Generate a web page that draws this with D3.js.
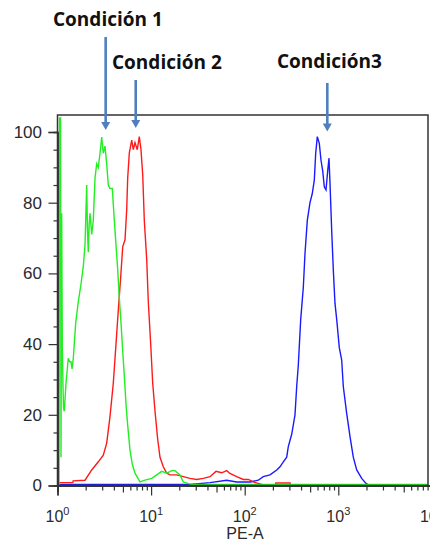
<!DOCTYPE html>
<html><head><meta charset="utf-8">
<script src="https://cdn.jsdelivr.net/npm/d3@7"></script>
<style>body{margin:0;background:#fff}svg{display:block}</style>
</head><body>
<svg id="c" width="430" height="543"></svg>
<script>
// ---------- data ----------
const yTicks = [0, 20, 40, 60, 80, 100];
const yMinorTicks = [5, 10, 15, 25, 30, 35, 45, 50, 55, 65, 70, 75, 85, 90, 95];
const xDecades = [0, 1, 2, 3, 4];
const xAxisLabel = "PE-A";
const annotations = ["Condición 1", "Condición 2", "Condición3"];
const arrowTargets = [3.27, 6.85, 763];   // PE-A value each arrow points at

// Condición 1 (green)  [PE-A, count]
const cond1 = [[1.04,0],[1.05,104],[1.077,104],[1.09,8],[1.109,77],[1.125,40],[1.145,28],[1.16,22],[1.182,21],
 [1.233,29],[1.304,36],[1.35,35],[1.394,35],[1.43,33],[1.475,36],[1.565,46],[1.668,52],[1.783,57],[1.886,62],
 [1.967,68],[2.016,78],[2.051,85],[2.09,72],[2.133,66],[2.18,74],[2.225,77],[2.32,71],[2.413,75],[2.516,87],
 [2.623,91],[2.729,90],[2.846,94],[2.967,98.6],[3.085,94],[3.217,96],[3.354,91],[3.489,85],[3.638,84],[3.85,84],
 [4.045,75],[4.217,68],[4.398,61],[4.575,53],[4.77,46],[4.974,38],[5.173,31],[5.393,23],[5.623,17],[5.951,10],
 [6.297,6],[6.73,3.5],[7.61,1],[8.606,1.5],[10.15,2],[11.48,3],[12.98,4],[14.68,3.5],[16.6,4.2],[18.0,4.2],
 [20.36,3],[22.08,1],[26.04,0.4],[30,0.3],[9500,0.3]];

// Condición 2 (red)
const cond2 = [[1.01,0.8],[1.46,0.8],[1.47,1.3],[1.967,1.5],[2.32,4.4],[2.729,6.7],[3.085,8.6],[3.354,12],
 [3.638,19.5],[3.947,29],[4.217,40],[4.463,49.6],[4.733,59],[4.974,67.5],[5.263,69.5],[5.487,78],[5.623,87],
 [5.849,94],[6.205,97.7],[6.454,95],[6.73,97],[7.12,95],[7.479,98.7],[7.799,95],[8.135,88],[8.461,75],[8.974,64],
 [9.335,52],[9.901,40],[10.4,29],[11.01,21],[11.77,13],[12.45,8],[13.5,5.3],[14.68,3.5],[15.92,3],[18.77,3],
 [22.08,2.5],[26.04,2],[30.71,1.7],[36.13,2],[42.59,2.5],[49.37,4],[56.8,3.6],[64.22,4.2],[69.66,3.4],
 [82.14,2.5],[96.6,1.7],[109.3,1.7],[123.6,1],[139.8,0.6],[164.8,0],[212,0],[215,0.7],[305,0.7],[308,0],[9500,0]];

// Condición 3 (blue)
const cond3 = [[1.01,0.3],[26.04,0.3],[42.59,0.8],[64.22,1.5],[82.14,1],[113.9,1],[139.8,1.5],[158.0,2.5],
 [186.3,3],[219.8,4.4],[238.3,5.3],[258.5,6.7],[281.0,8],[292.3,11],[317.8,14.5],[344.6,20],[359.4,28],[373.8,34],
 [396.6,47],[422.8,56],[440.8,65.7],[466.6,75],[498.4,80],[527.5,82.6],[554.0,86.4],[573.5,94],[596.6,98.7],
 [626.7,96.8],[653.5,92],[681.4,89],[708.7,84.5],[739.0,83.6],[770.6,89],[795.6,92.6],[815.4,85.5],[850.3,72],
 [884.5,61],[921.9,51.5],[961.4,47],[1025,39],[1087,35.5],[1131,28],[1229,20.4],[1334,13.8],[1446,8],[1573,4.4],
 [1778,2],[1977,0.6],[2170,0],[9500,0]];

// ---------- layout ----------
const svg = d3.select("#c");
const L = 57.5, R = 428, T = 115, B = 485.5;
const x = d3.scaleLog().domain([1, 10000]).range([L, 431.9]);
const y = d3.scaleLinear().domain([0, 100]).range([B, 132]);
const font = "'Liberation Sans', Arial, sans-serif";

svg.append("defs").append("clipPath").attr("id", "clip")
  .append("rect").attr("x", L).attr("y", T).attr("width", R - L).attr("height", B - T + 1);

// curves
const line = d3.line().x(d => x(d[0])).y(d => y(d[1]));
const g = svg.append("g").attr("clip-path", "url(#clip)");
[[cond3, "#1a1aff"], [cond2, "#ff1a1a"], [cond1, "#22ee22"]].forEach(([d, c]) => {
  g.append("path").datum(d).attr("d", line).attr("fill", "none")
    .attr("stroke", c).attr("stroke-width", 1.4).attr("stroke-linejoin", "miter");
});

// frame
svg.append("rect").attr("x", L).attr("y", T).attr("width", R - L).attr("height", B - T)
  .attr("fill", "none").attr("stroke", "#333").attr("stroke-width", 1.5);

// y axis
const yAx = svg.append("g").attr("transform", `translate(${L},0)`)
  .call(d3.axisLeft(y).tickValues(yTicks).tickSize(9).tickPadding(6.5).tickFormat(d3.format("d")));
svg.append("g").attr("transform", `translate(${L},0)`)
  .call(d3.axisLeft(y).tickValues(yMinorTicks).tickSize(4).tickFormat(""));

// x axis
const xMinor = [], xMid = [];
xDecades.slice(0, 4).forEach(e => {
  [2, 3, 4, 6, 7, 8, 9].forEach(m => xMinor.push(m * Math.pow(10, e)));
  xMid.push(5 * Math.pow(10, e));
});
svg.append("g").attr("transform", `translate(0,${B})`)
  .call(d3.axisBottom(x).tickValues(xMinor).tickSize(5).tickFormat(""));
svg.append("g").attr("transform", `translate(0,${B})`)
  .call(d3.axisBottom(x).tickValues(xMid).tickSize(7).tickFormat(""));
svg.append("g").attr("transform", `translate(0,${B})`)
  .call(d3.axisBottom(x).tickValues(xDecades.map(e => Math.pow(10, e))).tickSize(10).tickFormat(""));

svg.selectAll(".domain").attr("stroke", "#333").attr("stroke-width", 1.5);
svg.selectAll(".tick line").attr("stroke", "#333").attr("stroke-width", 1.2);
yAx.selectAll("text").attr("font-family", font).attr("font-size", 17).attr("fill", "#2a2a2a");

const xl = svg.append("g").selectAll("text").data(xDecades).join("text")
  .attr("x", e => x(Math.pow(10, e))).attr("y", 522)
  .attr("text-anchor", "middle").attr("font-family", font).attr("font-size", 16).attr("fill", "#2a2a2a");
xl.append("tspan").text("10");
xl.append("tspan").attr("dy", -7).attr("font-size", 11).text(e => e);

svg.append("text").attr("x", 245).attr("y", 539).attr("text-anchor", "middle")
  .attr("font-family", font).attr("font-size", 16).attr("fill", "#2a2a2a").text(xAxisLabel);

// annotations
const annFont = "'Open Sans', Lato, sans-serif";
const annPos = [[53, 26, 37, 130], [112, 69, 80, 128], [277, 68, 83, 131.5]];
annotations.forEach((t, i) => {
  const [tx, ty, y0, y1] = annPos[i];
  svg.append("text").attr("x", tx).attr("y", ty).attr("font-family", annFont)
    .attr("font-weight", 700).attr("font-size", 19).attr("fill", "#111").text(t);
  const ax = x(arrowTargets[i]);
  svg.append("line").attr("x1", ax).attr("x2", ax).attr("y1", y0).attr("y2", y1 - 6)
    .attr("stroke", "#4f7fbd").attr("stroke-width", 2.6);
  svg.append("path").attr("d", `M${ax - 4.5},${y1 - 8}L${ax + 4.5},${y1 - 8}L${ax},${y1}Z`)
    .attr("fill", "#4f7fbd");
});
</script>
</body></html>
